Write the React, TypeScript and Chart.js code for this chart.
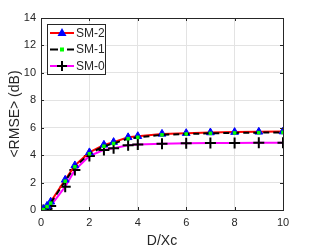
import React, { useEffect, useRef } from "react";
import { Chart, registerables } from "chart.js";

Chart.register(...registerables);

const xValues = [0.1, 0.25, 0.4, 1, 1.4, 2, 2.6, 3, 3.6, 4, 5, 6, 7, 8, 9, 10];
const sm2 = [0.05, 0.3, 0.6, 2.2, 3.25, 4.2, 4.75, 4.95, 5.3, 5.38, 5.55, 5.6, 5.65, 5.68, 5.7, 5.72];
const sm1 = [0.03, 0.25, 0.5, 2.1, 3.15, 4.1, 4.65, 4.85, 5.2, 5.3, 5.48, 5.54, 5.59, 5.62, 5.64, 5.66];
const sm0 = [0.0, 0.1, 0.3, 1.7, 2.92, 3.94, 4.38, 4.5, 4.72, 4.78, 4.83, 4.86, 4.88, 4.89, 4.9, 4.91];
const seriesNames = ["SM-2", "SM-1", "SM-0"];
const xTicks = [0, 2, 4, 6, 8, 10];
const yTicks = [0, 2, 4, 6, 8, 10, 12, 14];
const xTitle = "D/Xc";
const yTitle = "<RMSE> (dB)";

const FONT = "'Liberation Sans', Arial, Helvetica, sans-serif";
const AXIS = "#262626";

const toPts = (ys: number[]) => xValues.map((x, i) => ({ x, y: ys[i] }));

const framePlugin = {
  id: "frame",
  afterDraw(chart: any) {
    const { ctx, chartArea: a, scales } = chart;
    const xs = scales.x;
    const ys = scales.y;
    ctx.save();
    ctx.strokeStyle = AXIS;
    ctx.lineWidth = 1;
    ctx.strokeRect(Math.round(a.left) + 0.5, Math.round(a.top) + 0.5, Math.round(a.right - a.left), Math.round(a.bottom - a.top));
    const tl = 3;
    ctx.beginPath();
    xTicks.forEach((t) => {
      const px = Math.round(xs.getPixelForValue(t)) + 0.5;
      ctx.moveTo(px, a.bottom);
      ctx.lineTo(px, a.bottom - tl);
      ctx.moveTo(px, a.top);
      ctx.lineTo(px, a.top + tl);
    });
    yTicks.forEach((t) => {
      const py = Math.round(ys.getPixelForValue(t)) + 0.5;
      ctx.moveTo(a.left, py);
      ctx.lineTo(a.left + tl, py);
      ctx.moveTo(a.right, py);
      ctx.lineTo(a.right - tl, py);
    });
    ctx.stroke();

    // axis titles
    ctx.fillStyle = AXIS;
    ctx.font = `14px ${FONT}`;
    ctx.textAlign = "center";
    ctx.textBaseline = "middle";
    ctx.fillText(xTitle, (a.left + a.right) / 2, 241);
    ctx.save();
    ctx.translate(15, (a.top + a.bottom) / 2);
    ctx.rotate(-Math.PI / 2);
    ctx.fillText(yTitle, 0, 0);
    ctx.restore();

    // legend
    const bx = 47.5, by = 24.5, bw = 58, bh = 50;
    ctx.fillStyle = "#ffffff";
    ctx.fillRect(bx, by, bw, bh);
    ctx.strokeStyle = AXIS;
    ctx.lineWidth = 1;
    ctx.strokeRect(bx, by, bw, bh);
    const rows = [33, 49.5, 66];
    const lx0 = 50, lx1 = 74, mx = 62;
    ctx.lineWidth = 2;
    // SM-2
    ctx.strokeStyle = "#ff0000";
    ctx.beginPath();
    ctx.moveTo(lx0, rows[0]);
    ctx.lineTo(lx1, rows[0]);
    ctx.stroke();
    ctx.fillStyle = "#0000ff";
    ctx.beginPath();
    ctx.moveTo(mx, rows[0] - 5);
    ctx.lineTo(mx + 4.5, rows[0] + 3);
    ctx.lineTo(mx - 4.5, rows[0] + 3);
    ctx.closePath();
    ctx.fill();
    // SM-1
    ctx.strokeStyle = "#000000";
    ctx.beginPath();
    ctx.moveTo(lx0, rows[1]);
    ctx.lineTo(58, rows[1]);
    ctx.moveTo(67, rows[1]);
    ctx.lineTo(lx1, rows[1]);
    ctx.stroke();
    ctx.fillStyle = "#00ff00";
    ctx.fillRect(mx - 2, rows[1] - 2, 4, 4);
    // SM-0
    ctx.strokeStyle = "#ff00ff";
    ctx.beginPath();
    ctx.moveTo(lx0, rows[2]);
    ctx.lineTo(lx1, rows[2]);
    ctx.stroke();
    ctx.strokeStyle = "#000000";
    ctx.beginPath();
    ctx.moveTo(mx - 5, rows[2]);
    ctx.lineTo(mx + 5, rows[2]);
    ctx.moveTo(mx, rows[2] - 5);
    ctx.lineTo(mx, rows[2] + 5);
    ctx.stroke();
    ctx.fillStyle = AXIS;
    ctx.font = `12px ${FONT}`;
    ctx.textAlign = "left";
    ctx.textBaseline = "middle";
    seriesNames.forEach((n, i) => ctx.fillText(n, 76, rows[i] + 0.5));
    ctx.restore();
  },
};

export default function App() {
  const ref = useRef<HTMLCanvasElement>(null);
  useEffect(() => {
    if (!ref.current) return;
    const chart = new Chart(ref.current, {
      type: "line",
      data: {
        datasets: [
          {
            label: seriesNames[1],
            data: toPts(sm1),
            borderColor: "#000000",
            borderWidth: 2,
            borderDash: [6, 4],
            pointStyle: "rect",
            pointRadius: 2.5,
            pointBackgroundColor: "#00ff00",
            pointBorderWidth: 0,
            pointBorderColor: "#00ff00",
            tension: 0,
          },
          {
            label: seriesNames[0],
            data: toPts(sm2),
            borderColor: "#ff0000",
            borderWidth: 2,
            pointStyle: "triangle",
            pointRadius: 4.5,
            pointBackgroundColor: "#0000ff",
            pointBorderColor: "#0000ff",
            pointBorderWidth: 1,
            tension: 0,
          },
          {
            label: seriesNames[2],
            data: toPts(sm0),
            borderColor: "#ff00ff",
            borderWidth: 2,
            pointStyle: "cross",
            pointRadius: 5.5,
            pointBorderColor: "#000000",
            pointBorderWidth: 2,
            tension: 0,
          },
        ],
      },
      options: {
        animation: false,
        responsive: false,
        layout: { padding: { left: 0, top: 18, right: 29, bottom: 0 } },
        plugins: { legend: { display: false }, tooltip: { enabled: false } },
        scales: {
          x: {
            type: "linear",
            min: 0,
            max: 10,
            afterFit: (s: any) => { s.height = 41; },
            afterBuildTicks: (s: any) => { s.ticks = xTicks.map((v) => ({ value: v })); },
            ticks: { color: AXIS, font: { family: FONT, size: 11 }, padding: 6, maxRotation: 0 },
            grid: { color: "#e3e3e3", drawTicks: false },
            border: { display: false },
          },
          y: {
            type: "linear",
            min: 0,
            max: 14,
            afterFit: (s: any) => { s.width = 41; },
            afterBuildTicks: (s: any) => { s.ticks = yTicks.map((v) => ({ value: v })); },
            ticks: { color: AXIS, font: { family: FONT, size: 11 }, padding: 5 },
            grid: { color: "#e3e3e3", drawTicks: false },
            border: { display: false },
          },
        },
      },
      plugins: [framePlugin],
    });
    return () => chart.destroy();
  }, []);
  return (
    <div style={{ position: "absolute", left: 0, top: 0, width: 312, height: 251, background: "#fff" }}>
      <canvas ref={ref} width={312} height={251} />
    </div>
  );
}
